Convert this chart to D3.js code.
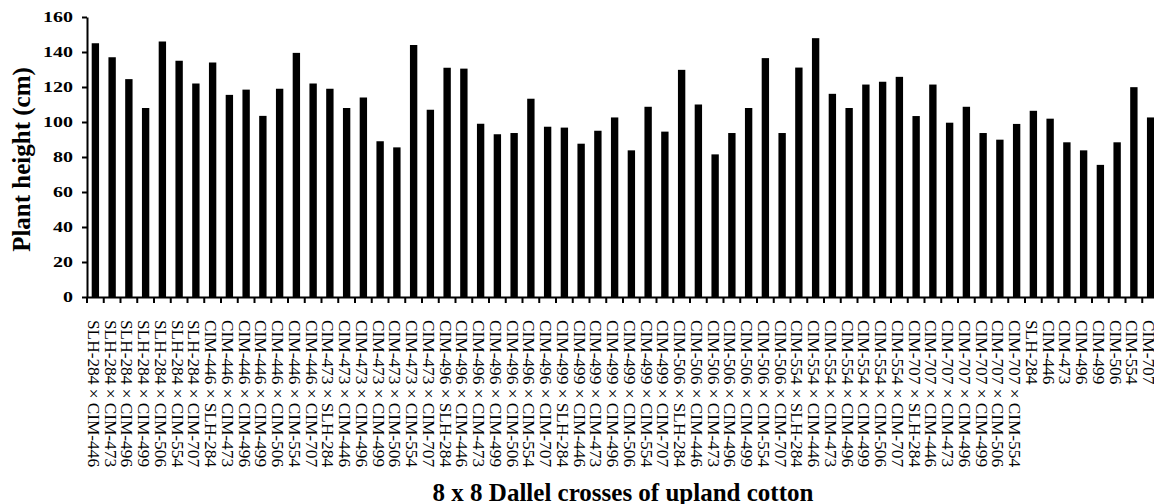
<!DOCTYPE html>
<html>
<head>
<meta charset="utf-8">
<script src="https://cdn.jsdelivr.net/npm/d3@7"></script>
<style>
  html, body { margin: 0; padding: 0; background: #fff; }
  svg { display: block; }
</style>
</head>
<body>
<svg id="chart" width="1154" height="504"></svg>
<script>
const categories = [
  "SLH-284 × CIM-446","SLH-284 × CIM-473","SLH-284 × CIM-496","SLH-284 × CIM-499","SLH-284 × CIM-506","SLH-284 × CIM-554","SLH-284 × CIM-707",
  "CIM-446 × SLH-284","CIM-446 × CIM-473","CIM-446 × CIM-496","CIM-446 × CIM-499","CIM-446 × CIM-506","CIM-446 × CIM-554","CIM-446 × CIM-707",
  "CIM-473 × SLH-284","CIM-473 × CIM-446","CIM-473 × CIM-496","CIM-473 × CIM-499","CIM-473 × CIM-506","CIM-473 × CIM-554","CIM-473 × CIM-707",
  "CIM-496 × SLH-284","CIM-496 × CIM-446","CIM-496 × CIM-473","CIM-496 × CIM-499","CIM-496 × CIM-506","CIM-496 × CIM-554","CIM-496 × CIM-707",
  "CIM-499 × SLH-284","CIM-499 × CIM-446","CIM-499 × CIM-473","CIM-499 × CIM-496","CIM-499 × CIM-506","CIM-499 × CIM-554","CIM-499 × CIM-707",
  "CIM-506 × SLH-284","CIM-506 × CIM-446","CIM-506 × CIM-473","CIM-506 × CIM-496","CIM-506 × CIM-499","CIM-506 × CIM-554","CIM-506 × CIM-707",
  "CIM-554 × SLH-284","CIM-554 × CIM-446","CIM-554 × CIM-473","CIM-554 × CIM-496","CIM-554 × CIM-499","CIM-554 × CIM-506","CIM-554 × CIM-707",
  "CIM-707 × SLH-284","CIM-707 × CIM-446","CIM-707 × CIM-473","CIM-707 × CIM-496","CIM-707 × CIM-499","CIM-707 × CIM-506","CIM-707 × CIM-554",
  "SLH-284","CIM-446","CIM-473","CIM-496","CIM-499","CIM-506","CIM-554","CIM-707"
];
const plantHeight = [
  145, 137, 124.5, 108, 146, 135, 122,
  134, 115.5, 118.5, 103.5, 119, 139.5, 122,
  119, 108, 114, 89, 85.5, 144, 107,
  131, 130.5, 99, 93, 93.7, 113.3, 97.3,
  96.8, 87.6, 95, 102.6, 83.8, 108.7, 94.5,
  129.8, 110, 81.5, 93.7, 108, 136.5, 93.7,
  131.1, 147.9, 116.1, 108, 121.4, 123, 125.8,
  103.4, 121.4, 99.6, 108.7, 93.7, 89.9, 98.9,
  106.4, 101.9, 88.4, 83.8, 75.5, 88.4, 119.9, 102.6
];
const yTickValues = [0, 20, 40, 60, 80, 100, 120, 140, 160];
const yTitle = "Plant height (cm)";
const xTitle = "8 x 8 Dallel crosses of upland cotton";

const svg = d3.select("#chart");
const plotLeft = 87, plotRight = 1159, plotTop = 17, plotBottom = 297;

const x = d3.scaleBand().domain(categories).range([plotLeft, plotRight]).paddingInner(0.56).paddingOuter(0.28);
const y = d3.scaleLinear().domain([0, 160]).range([plotBottom, plotTop]);
const gap = (x.step() - x.bandwidth()) / 2;

// bars
svg.append("g").selectAll("rect").data(plantHeight).join("rect")
  .attr("x", (d, i) => x(categories[i]))
  .attr("width", x.bandwidth())
  .attr("y", d => y(d))
  .attr("height", d => y(0) - y(d))
  .attr("fill", "#000");

// y axis
const yAxis = svg.append("g").attr("transform", `translate(${plotLeft},0)`)
  .call(d3.axisLeft(y).tickValues(yTickValues).tickSize(5).tickSizeOuter(0).tickPadding(9));
yAxis.select(".domain").attr("stroke", "#000").attr("stroke-width", 2);
yAxis.selectAll(".tick line").attr("stroke", "#000").attr("stroke-width", 2);
yAxis.selectAll(".tick text")
  .attr("font-family", "'Liberation Serif', 'Times New Roman', serif")
  .attr("font-size", 15).attr("font-weight", "bold").attr("fill", "#000")
  .each(function () {
    const w = this.getComputedTextLength();
    this.setAttribute("textLength", w * 1.33);
    this.setAttribute("lengthAdjust", "spacingAndGlyphs");
  });

// x axis (domain line + boundary ticks)
const xAxis = svg.append("g").attr("transform", `translate(0,${plotBottom})`)
  .call(d3.axisBottom(x).tickSize(0).tickSizeOuter(0).tickFormat(""));
xAxis.select(".domain").attr("stroke", "#000").attr("stroke-width", 2);
xAxis.selectAll(".tick").remove();
const boundaries = categories.map(c => x(c) - gap).concat([x(categories[categories.length - 1]) + x.bandwidth() + gap]);
xAxis.append("g").selectAll("line").data(boundaries).join("line")
  .attr("x1", d => d).attr("x2", d => d)
  .attr("y1", 0).attr("y2", 6)
  .attr("stroke", "#000").attr("stroke-width", 2);

// category labels, rotated
svg.append("g").selectAll("text").data(categories).join("text")
  .attr("transform", d => `translate(${x(d) + x.bandwidth() / 2 - 7.5},${320}) rotate(90)`)
  .attr("font-family", "'Liberation Serif', 'Times New Roman', serif")
  .attr("font-size", 17.3)
  .attr("fill", "#000")
  .text(d => d);

// axis titles
svg.append("text")
  .attr("transform", `translate(29.5,${(63 + 256) / 2}) rotate(-90)`)
  .attr("text-anchor", "middle")
  .attr("font-family", "'Liberation Serif', 'Times New Roman', serif")
  .attr("font-size", 25).attr("font-weight", "bold").attr("fill", "#000")
  .text(yTitle);

svg.append("text")
  .attr("x", (plotLeft + plotRight) / 2).attr("y", 501)
  .attr("text-anchor", "middle")
  .attr("font-family", "'Liberation Serif', 'Times New Roman', serif")
  .attr("font-size", 25).attr("font-weight", "bold").attr("fill", "#000")
  .text(xTitle);
</script>
</body>
</html>
